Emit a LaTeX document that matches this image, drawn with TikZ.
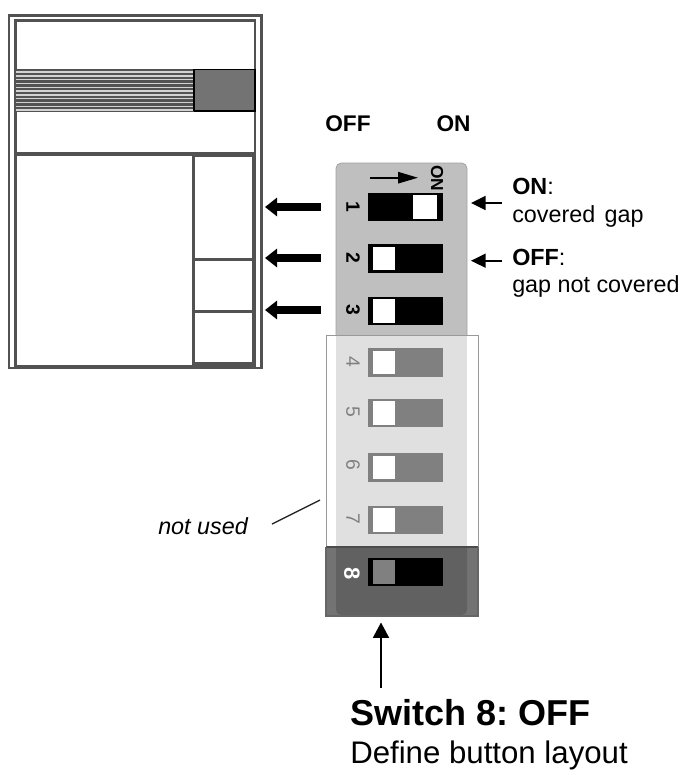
\documentclass[tikz,border=0pt]{standalone}
\usepackage{fontspec}
\setmainfont{Liberation Sans}
\frenchspacing
\usetikzlibrary{arrows.meta}
\definecolor{framec}{gray}{0.32}
\definecolor{bodyc}{gray}{0.75}
\definecolor{fadec}{gray}{0.88}
\definecolor{fadesw}{gray}{0.5}
\definecolor{darkc}{gray}{0.38}
\definecolor{flankc}{gray}{0.45}
\tikzset{
  x=0.75pt,y=-0.75pt,
  frameline/.style={draw=framec,line width=2.1pt,fill=white},
  panelbox/.style={draw=framec,line width=2.5pt},
  swnum/.style={font=\bfseries\fontsize{14.5}{14.5}\selectfont,rotate=-90,inner sep=0pt},
  fadenum/.style={swnum,text=fadesw,font=\fontsize{14.5}{14.5}\selectfont},
  fat/.style={line width=6pt,-{Triangle[length=9pt,width=13.5pt]}},
  thin arrow/.style={line width=1.2pt,-{Triangle[length=11pt,width=10.5pt]}},
  lbl/.style={font=\fontsize{17.5}{21}\selectfont,anchor=base west,inner sep=0pt},
  head/.style={font=\bfseries\fontsize{17}{20}\selectfont,inner sep=0pt,anchor=base},
}
% #1 top y, #2 body colour, #3 knob colour, #4 knob left x, #5 knob width
\newcommand{\dipsw}[5]{%
  \fill[#2] (367.5,#1) rectangle (443,#1+28.5);
  \fill[#3] (#4,#1+2.5) rectangle (#4+#5,#1+26);
}
\begin{document}
\begin{tikzpicture}
\useasboundingbox (0,0) rectangle (681,775);
% device
\draw[frameline] (9,15.5) rectangle (261.5,368);
\draw[frameline] (15.5,20.5) rectangle (255,366);
\fill[gray!35] (15.5,69.5) rectangle (194,111);
\foreach \yy in {70.2,74,77.8,81.6,85.4,89.2,93,96.8,100.6,104.4,108.2}
  \draw[draw=framec,line width=1.8pt] (15.5,\yy) -- (194,\yy);
\draw[draw=black,line width=0.9pt,fill=flankc] (194,69.5) rectangle (255,111);
\draw[draw=framec,line width=1pt] (15.5,111.5) -- (194,111.5);
\draw[draw=framec,line width=3pt] (15.5,154) -- (255,154);
\draw[panelbox] (193.5,155) rectangle (253.5,259.5);
\draw[panelbox] (193.5,259.5) rectangle (253.5,311.5);
\draw[panelbox] (193.5,311.5) rectangle (253.5,364);
% headings
\node[head] (off) at (348,131) {OFF};
\node[head] (on) at (453.5,131) {ON};
% DIP body
\fill[bodyc,rounded corners=4pt] (336,163) rectangle (467,340);
\draw[bodyc!85!black,line width=0.6pt,rounded corners=4pt] (336,340) -- (336,163) -- (467,163) -- (467,340);
\fill[flankc] (326,547) rectangle (478,616);
\fill[darkc,rounded corners=4pt] (336,540) rectangle (467,615);
\fill[white] (326,335) rectangle (478,547);
\fill[fadec] (336,335) rectangle (467,547);
\draw[gray!80,line width=0.5pt] (326,547) -- (326,335) -- (478,335) -- (478,547);
\draw[black!70,line width=0.8pt] (326,547) -- (478,547);
\draw[black!60,line width=0.8pt] (326,547) -- (326,616) -- (478,616) -- (478,547);
% switches
\dipsw{192.7}{black}{white}{412.5}{24}
\dipsw{244}{black}{white}{373}{22}
\dipsw{296.7}{black}{white}{373}{22}
\dipsw{348.3}{fadesw}{white}{373}{22}
\dipsw{398.5}{fadesw}{white}{373}{22}
\dipsw{453}{fadesw}{white}{373}{22}
\dipsw{505.5}{fadesw}{white}{373}{22}
\dipsw{557.5}{black}{fadesw}{373}{22}
% numbers
\node[swnum] (n1) at (353,207) {1};
\node[swnum] (n2) at (353,258) {2};
\node[swnum] (n3) at (353,310) {3};
\node[fadenum] (n4) at (353,362) {4};
\node[fadenum] (n5) at (353,412) {5};
\node[fadenum] (n6) at (353,465) {6};
\node[fadenum] (n7) at (353,519) {7};
\node[swnum,text=white,font=\bfseries\fontsize{16.5}{16.5}\selectfont] (n8) at (352,574) {8};
\node[swnum,font=\bfseries\fontsize{13}{13}\selectfont] (onlab) at (437,178) {ON};
\coordinate (dirA) at (370,177.7);
\coordinate (dirB) at (418,177.7);
\draw[line width=1.4pt,-{Triangle[length=15pt,width=8.5pt]}] (dirA) -- (dirB);
% fat arrows
\coordinate (a1s) at (320.5,207); \coordinate (a1e) at (265,207);
\coordinate (a2s) at (320.5,258); \coordinate (a2e) at (265,258);
\coordinate (a3s) at (320.5,310); \coordinate (a3e) at (265,310);
\draw[fat] (a1s) -- (a1e);
\draw[fat] (a2s) -- (a2e);
\draw[fat] (a3s) -- (a3e);
% side labels
\node[lbl] (lon) at (512,194) {\textbf{ON}:};
\node[lbl] (lonb) at (512,222) {covered\hspace{7pt}gap};
\node[lbl] (loff) at (512,265) {\textbf{OFF}:};
\node[lbl] (loffb) at (512,292) {gap not covered};
\coordinate (t1) at (502,203); \coordinate (t2) at (502,260.7);
\coordinate (t1e) at (471,203); \coordinate (t2e) at (471,260.7);
\draw[thin arrow] (t1) -- (t1e);
\draw[thin arrow] (t2) -- (t2e);
% not used
\node[font=\itshape\fontsize{17.5}{18}\selectfont,inner sep=0pt,anchor=base west] (nu) at (158,534) {not used};
\coordinate (nuA) at (272,524); \coordinate (nuB) at (320,500);
\draw[line width=1pt,black!85] (nuA) -- (nuB);
% bottom
\coordinate (bA) at (381,688); \coordinate (bB) at (381,622.5);
\draw[line width=1.2pt,-{Triangle[length=11.5pt,width=12pt]}] (bA) -- (bB);
\node[font=\bfseries\fontsize{27}{30}\selectfont,anchor=base west,inner sep=0pt] (big) at (350,725.7) {Switch 8: OFF};
\node[font=\fontsize{23.4}{26}\selectfont,anchor=base west,inner sep=0pt] (sub) at (350,763) {Define button layout};
\end{tikzpicture}
\end{document}
